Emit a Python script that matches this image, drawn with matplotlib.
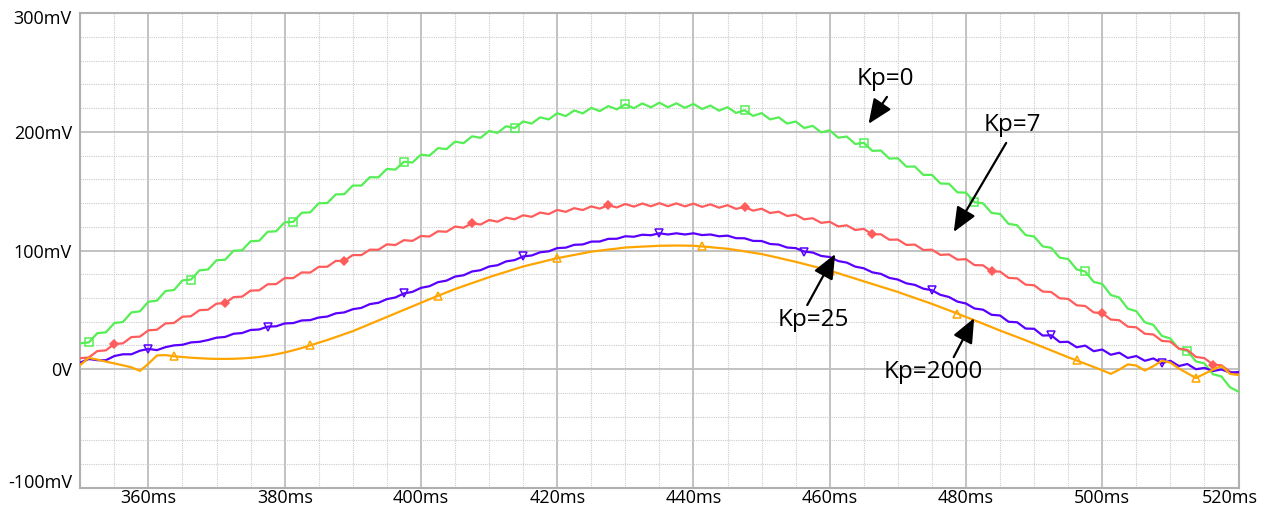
import numpy as np
import matplotlib
matplotlib.use("Agg")
import matplotlib.pyplot as plt
from matplotlib.ticker import MultipleLocator, FixedLocator
from matplotlib.transforms import ScaledTranslation

plt.rcParams['font.family'] = ['Open Sans', 'DejaVu Sans']

# Output voltage (mV) sampled every 1.25 ms from 350 ms to 520 ms
t_start_ms = 350.0
t_step_ms = 1.25

v_kp0 = [
    21.8, 22.5, 30.3, 31.0, 38.8, 39.7, 47.8, 48.7, 56.8, 57.7, 65.8, 66.7,
    74.8, 75.5, 83.3, 84.0, 91.8, 92.2, 99.8, 100.2, 107.8, 108.2, 115.8, 116.2,
    123.8, 124.2, 131.8, 132.2, 139.8, 140.0, 147.3, 147.5, 154.8, 154.7, 161.8, 161.7,
    168.8, 168.2, 174.8, 174.2, 180.8, 180.0, 186.3, 185.5, 191.8, 190.5, 196.3, 195.0,
    200.8, 199.2, 204.8, 203.2, 208.8, 207.0, 212.3, 210.5, 215.8, 213.3, 218.1, 215.6,
    220.3, 217.5, 221.8, 219.0, 223.3, 220.0, 224.0, 220.7, 224.6, 220.8, 224.1, 220.3,
    223.6, 219.3, 222.2, 217.9, 220.8, 216.0, 218.3, 213.5, 215.8, 210.5, 212.3, 207.0,
    208.8, 203.3, 205.1, 199.6, 201.3, 195.1, 196.1, 189.8, 190.8, 184.0, 184.3, 177.5,
    177.8, 170.7, 170.8, 163.7, 163.8, 156.5, 156.3, 149.0, 148.8, 140.7, 139.8, 131.7,
    130.8, 122.5, 121.3, 113.0, 111.8, 103.5, 102.3, 94.0, 92.8, 84.0, 82.3, 73.5,
    71.8, 62.5, 60.3, 51.0, 48.8, 39.5, 37.3, 28.0, 25.8, 17.0, 15.3, 6.5,
    4.8, -4.3, -6.2, -15.3, -19.0,
]

v_kp7 = [
    9.2, 9.8, 15.2, 15.8, 21.2, 21.7, 27.0, 27.4, 32.7, 33.2, 38.5, 38.9,
    44.2, 44.6, 49.7, 50.1, 55.2, 55.6, 60.7, 61.1, 66.2, 66.4, 71.5, 71.7,
    76.7, 76.7, 81.5, 81.4, 86.2, 86.3, 91.2, 91.3, 96.2, 96.1, 100.7, 100.6,
    105.2, 104.6, 108.7, 108.1, 112.2, 111.8, 116.2, 115.8, 120.2, 119.2, 123.0, 121.9,
    125.7, 124.3, 127.7, 126.3, 129.7, 128.4, 132.0, 130.7, 134.2, 132.6, 135.7, 134.1,
    137.2, 135.3, 138.2, 136.3, 139.2, 137.0, 139.6, 137.3, 139.9, 137.4, 139.7, 137.2,
    139.5, 136.8, 138.9, 136.1, 138.2, 135.1, 136.7, 133.6, 135.2, 131.6, 132.7, 129.1,
    130.2, 126.3, 127.2, 123.3, 124.2, 120.3, 121.2, 117.3, 118.2, 113.6, 113.7, 109.1,
    109.2, 104.7, 105.0, 100.4, 100.7, 96.3, 96.7, 92.3, 92.7, 87.7, 87.5, 82.4,
    82.2, 76.9, 76.5, 71.2, 70.7, 65.4, 65.0, 59.7, 59.2, 53.8, 53.2, 47.8,
    47.2, 41.8, 41.2, 35.8, 35.2, 29.8, 29.2, 23.8, 23.2, 17.3, 16.2, 10.3,
    9.2, 3.8, 3.2, -2.2, -4.0,
]

v_kp25 = [
    5.5, 8.5, 7.5, 7.5, 11.0, 12.5, 12.5, 15.5, 17.0, 16.0, 18.5, 20.0,
    20.5, 22.5, 23.0, 24.5, 26.5, 27.1, 29.8, 30.4, 33.0, 33.4, 35.8, 36.1,
    38.5, 38.8, 41.0, 41.3, 43.5, 44.3, 47.0, 47.8, 50.5, 51.6, 54.8, 55.9,
    59.0, 60.4, 63.8, 65.1, 68.5, 69.9, 73.3, 74.6, 78.0, 79.1, 82.3, 83.4,
    86.5, 87.6, 90.8, 91.9, 95.0, 95.8, 98.5, 99.3, 102.0, 102.4, 104.8, 105.1,
    107.5, 107.6, 109.8, 109.9, 112.0, 111.6, 113.3, 112.9, 114.5, 113.5, 114.5, 113.5,
    114.5, 113.0, 113.5, 112.0, 112.5, 110.4, 110.3, 108.1, 108.0, 105.5, 105.0, 102.5,
    102.0, 99.1, 98.3, 95.4, 94.5, 91.1, 89.8, 86.4, 85.0, 81.6, 80.3, 76.9,
    75.5, 72.3, 71.0, 67.8, 66.5, 62.6, 60.8, 56.9, 55.3, 51.1, 50.1, 45.8,
    45.2, 39.9, 39.5, 34.2, 34.0, 28.3, 28.5, 22.8, 23.0, 18.4, 19.8, 15.1,
    16.5, 12.1, 13.8, 9.4, 11.0, 7.0, 9.0, 5.0, 7.0, 2.6, 4.3, -0.1,
    1.0, -1.6, -0.3, -2.9, -2.5,
]

v_kp2000 = [
    3.5, 9.5, 8.0, 6.3, 4.8, 3.2, 1.5, -1.5, 4.5, 11.5, 11.8, 10.8,
    10.2, 9.6, 9.2, 8.8, 8.6, 8.6, 8.7, 9.0, 9.5, 10.2, 11.2, 12.5,
    14.0, 15.8, 17.8, 20.0, 22.3, 24.5, 27.0, 29.5, 32.0, 35.0, 38.0, 41.0,
    44.0, 47.0, 50.0, 53.0, 56.0, 58.9, 61.8, 64.6, 67.5, 70.0, 72.5, 75.0,
    77.5, 79.8, 82.0, 84.3, 86.5, 88.3, 90.0, 91.8, 93.5, 94.9, 96.3, 97.6,
    99.0, 99.9, 100.8, 101.6, 102.5, 102.9, 103.3, 103.6, 104.0, 104.1, 104.2, 104.1,
    104.0, 103.4, 102.8, 102.1, 101.5, 100.4, 99.3, 98.1, 97.0, 95.4, 93.8, 92.1,
    90.5, 88.6, 86.8, 84.9, 83.0, 80.8, 78.5, 76.3, 74.0, 71.8, 69.5, 67.3,
    65.0, 62.5, 60.0, 57.5, 55.0, 52.3, 49.5, 46.8, 44.0, 41.1, 38.3, 35.4,
    32.5, 29.8, 27.0, 24.3, 21.5, 18.6, 15.8, 12.9, 10.0, 7.3, 4.5, 1.8,
    -1.0, -4.0, -0.5, 4.0, 3.0, -1.2, 2.5, 7.0, 5.5, 0.5, -3.5, -7.5,
    -4.0, -0.5, 2.5, -4.0, -5.0,
]

# Times (ms) at which each trace carries its symbol
marks_kp0 = [351.1, 366.1, 381.3, 397.4, 413.6, 430.3, 448.0, 465.0, 481.8, 497.7, 512.5]
marks_kp7 = [355.0, 371.2, 388.6, 407.4, 427.4, 448.0, 466.6, 483.8, 500.3, 516.5]
marks_kp25 = [359.7, 378.0, 397.0, 415.5, 435.6, 455.7, 474.4, 492.2, 508.9]
marks_kp2000 = [364.1, 383.8, 402.0, 420.2, 441.2, 460.6, 478.8, 496.7, 513.7]

x_ticks = [360, 380, 400, 420, 440, 460, 480, 500, 520]
x_tick_labels = ['360ms', '380ms', '400ms', '420ms', '440ms', '460ms', '480ms', '500ms', '520ms']
y_ticks = [-100, 0, 100, 200, 300]
y_tick_labels = ['-100mV', '0V', '100mV', '200mV', '300mV']

# Callouts: label, text position, arrow tail, arrow head (ms, mV)
callouts = [
    ('Kp=0', (468.1, 244.5), (468.4, 229.5), (465.7, 206.8)),
    ('Kp=7', (486.8, 205.5), (485.9, 190.7), (478.2, 115.6)),
    ('Kp=25', (457.6, 41.0), (456.7, 54.0), (460.8, 97.0)),
    ('Kp=2000', (475.2, -2.5), (478.2, 10.1), (481.2, 43.0)),
]

time_ms = t_start_ms + t_step_ms * np.arange(len(v_kp0))


def mark_index(times):
    return [int(round((m - t_start_ms) / t_step_ms)) for m in times]


W, H = 1264, 509
fig = plt.figure(figsize=(W / 100, H / 100), dpi=100)
left, right, top, bottom = 80.3, 1238.5, 13.3, 487.7
ax = fig.add_axes([left / W, 1 - bottom / H, (right - left) / W, (bottom - top) / H])

ax.set_xlim(350, 520)
ax.set_ylim(-100, 300)

grid_major = '#bdbdbd'
grid_minor = '#cccccc'
ax.xaxis.set_major_locator(FixedLocator(x_ticks))
ax.xaxis.set_minor_locator(MultipleLocator(5))
ax.yaxis.set_major_locator(FixedLocator(y_ticks))
ax.yaxis.set_minor_locator(MultipleLocator(20))
ax.grid(which='major', color=grid_major, linewidth=1.3, linestyle='-', zorder=0)
ax.grid(which='minor', color=grid_minor, linewidth=0.8, linestyle=(0, (1, 1)), zorder=0)
ax.set_axisbelow(True)

ax.set_xticklabels(x_tick_labels)
ax.set_yticklabels(y_tick_labels)
ax.tick_params(which='both', length=0)
ax.tick_params(axis='x', pad=1, labelsize=13, labelcolor='black')
ax.tick_params(axis='y', pad=6, labelsize=13, labelcolor='black')

for s in ax.spines.values():
    s.set_color('#b0b0b0')
    s.set_linewidth(1.5)

traces = [
    (v_kp0, marks_kp0, '#55ee55', 's', 'none', 5.5),
    (v_kp7, marks_kp7, '#ff5c5c', 'D', '#ff5c5c', 4.0),
    (v_kp25, marks_kp25, '#5a00ff', 'v', 'none', 6),
    (v_kp2000, marks_kp2000, '#ffa500', '^', 'none', 6),
]
for vals, marks, color, marker, mfc, ms in traces:
    ax.plot(time_ms, vals, color=color, linewidth=1.6, marker=marker,
            markevery=mark_index(marks), markersize=ms, markerfacecolor=mfc,
            markeredgecolor=color, markeredgewidth=1.1, zorder=3,
            solid_joinstyle='round')

for label, txt_pos, tail, head in callouts:
    ax.text(*txt_pos, label, fontsize=17.5, ha='center', va='center', zorder=5)
    ax.annotate('', xy=head, xytext=tail,
                arrowprops=dict(arrowstyle='-|>,head_length=0.75,head_width=0.32',
                                mutation_scale=20, color='black', lw=1.6,
                                shrinkA=0, shrinkB=0),
                zorder=5)

# Keep the outermost tick labels inside the canvas
fig.canvas.draw()
xt = ax.get_xticklabels()
xt[-1].set_transform(xt[-1].get_transform() + ScaledTranslation(-6 / 72, 0, fig.dpi_scale_trans))
yt = ax.get_yticklabels()
yt[0].set_transform(yt[0].get_transform() + ScaledTranslation(0, 5 / 72, fig.dpi_scale_trans))
yt[-1].set_transform(yt[-1].get_transform() + ScaledTranslation(0, -2.4 / 72, fig.dpi_scale_trans))

fig.savefig('out.png', dpi=100)
